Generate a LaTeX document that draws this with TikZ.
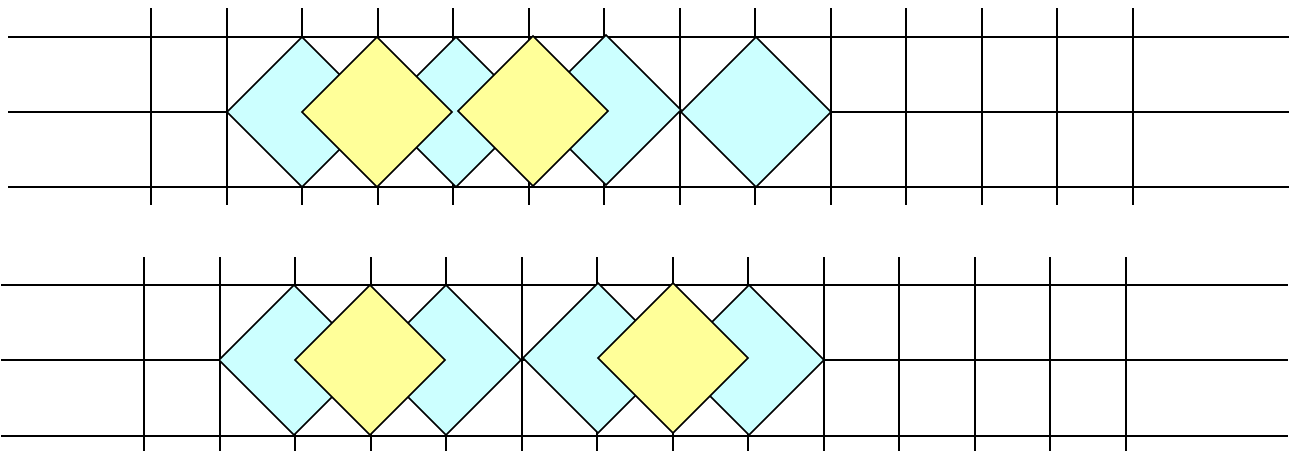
\documentclass[tikz,border=0pt]{standalone}
\usepackage{xcolor}
\usepackage{tikz}

\definecolor{lightcyan}{HTML}{CCFFFF}
\definecolor{lightyellow}{HTML}{FFFF99}

\begin{document}
\begin{tikzpicture}[x=1pt, y=-1pt, line width=1.8pt,
    cyanbox/.style={draw=black, fill=lightcyan, line join=miter, line width=1.6pt},
    yellowbox/.style={draw=black, fill=lightyellow, line join=miter, line width=1.6pt}]
    \useasboundingbox (0,0) rectangle (1289,451);
    % upper strip
    \foreach \y in {37,112,187}
        \draw (8,\y) -- (1289,\y);
    \foreach \i [evaluate=\i as \vx using {round(151+\i*75.54)}] in {0,...,13}
        \draw (\vx,8) -- (\vx,205);
    \foreach \cx/\cy in {302/112, 456/112, 606/110, 756/112}
        \draw[cyanbox] (\cx-75,\cy) -- (\cx,\cy-75) -- (\cx+75,\cy) -- (\cx,\cy+75) -- cycle;
    \foreach \cx/\cy in {377/112, 533/111}
        \draw[yellowbox] (\cx-75,\cy) -- (\cx,\cy-75) -- (\cx+75,\cy) -- (\cx,\cy+75) -- cycle;
    % lower strip
    \foreach \y in {285,360,436}
        \draw (1,\y) -- (1288,\y);
    \foreach \i [evaluate=\i as \vx using {round(144+\i*75.54)}] in {0,...,13}
        \draw (\vx,257) -- (\vx,451);
    \foreach \cx/\cy in {294/360, 446/360, 598/358, 749/360}
        \draw[cyanbox] (\cx-75,\cy) -- (\cx,\cy-75) -- (\cx+75,\cy) -- (\cx,\cy+75) -- cycle;
    \foreach \cx/\cy in {370/360, 673/358}
        \draw[yellowbox] (\cx-75,\cy) -- (\cx,\cy-75) -- (\cx+75,\cy) -- (\cx,\cy+75) -- cycle;
\end{tikzpicture}
\end{document}
